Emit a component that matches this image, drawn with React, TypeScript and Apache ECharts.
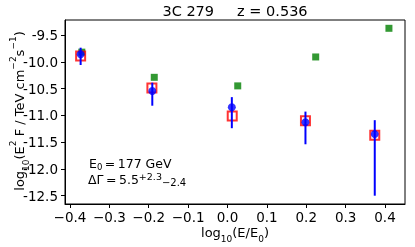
import React, { useEffect, useRef } from "react";
import * as echarts from "echarts";

const xTicks = [-0.4, -0.3, -0.2, -0.1, 0.0, 0.1, 0.2, 0.3, 0.4];
const yTicks = [-12.5, -12.0, -11.5, -11.0, -10.5, -10.0, -9.5];

const greenX = [-0.370, -0.186, 0.026, 0.224, 0.410];
const greenY = [-9.82, -10.29, -10.45, -9.91, -9.375];

const redX = [-0.373, -0.192, 0.012, 0.198, 0.374];
const redY = [-9.89, -10.49, -11.01, -11.10, -11.37];

const blueX = [-0.373, -0.191, 0.011, 0.198, 0.374];
const blueY = [-9.86, -10.545, -10.85, -11.13, -11.35];
const blueLo = [-10.06, -10.82, -11.24, -11.54, -12.5];
const blueHi = [-9.737, -10.39, -10.66, -10.93, -11.09];

const FONT = "DejaVu Sans";

export default function App() {
  const ref = useRef<HTMLDivElement>(null);
  useEffect(() => {
    const chart = echarts.init(ref.current!, null, { renderer: "svg" });
    const rich = {
      b: { fontFamily: FONT, fontSize: 13, color: "#000", lineHeight: 22, verticalAlign: "middle" },
      sup: { fontFamily: FONT, fontSize: 9, color: "#000", lineHeight: 11, verticalAlign: "top" },
      sub: { fontFamily: FONT, fontSize: 9, color: "#000", lineHeight: 11, verticalAlign: "bottom" },
    };
    const richA = {
      b: { fontFamily: FONT, fontSize: 12.5, color: "#000", lineHeight: 16, verticalAlign: "middle" },
      sup: { fontFamily: FONT, fontSize: 9.5, color: "#000", lineHeight: 7.5, verticalAlign: "top" },
      sub: { fontFamily: FONT, fontSize: 10, color: "#000", lineHeight: 4, verticalAlign: "bottom" },
      e0: { fontFamily: FONT, fontSize: 8.5, color: "#000", lineHeight: 10, verticalAlign: "bottom" },
    };
    chart.setOption({
      animation: false,
      grid: { left: 65, right: 10, top: 20, bottom: 43, show: true, borderColor: "#000", borderWidth: 1 },
      title: {
        text: "3C 279\u00a0\u00a0\u00a0\u00a0\u00a0z = 0.536",
        left: 235,
        textAlign: "center",
        top: 3,
        padding: 0,
        textStyle: { fontFamily: FONT, fontSize: 14.5, fontWeight: "normal", color: "#000" },
      },
      xAxis: {
        type: "value",
        min: -0.4127,
        max: 0.4508,
        splitLine: { show: false },
        axisLine: { show: true, onZero: false, lineStyle: { color: "#000", width: 1 } },
        axisTick: { show: true, customValues: xTicks, length: 4, lineStyle: { color: "#000" } },
        axisLabel: {
          customValues: xTicks,
          margin: 6,
          fontFamily: FONT,
          fontSize: 13.5,
          color: "#000",
          formatter: (v: number) => {
            const s = Math.abs(v).toFixed(1);
            return v < -1e-9 ? "\u2212" + s : s;
          },
        },
      },
      yAxis: {
        type: "value",
        min: -12.655,
        max: -9.22,
        splitLine: { show: false },
        axisLine: { show: true, onZero: false, lineStyle: { color: "#000", width: 1 } },
        axisTick: { show: true, customValues: yTicks, length: 4, lineStyle: { color: "#000" } },
        axisLabel: {
          customValues: yTicks,
          margin: 7,
          fontFamily: FONT,
          fontSize: 13.5,
          color: "#000",
          formatter: (v: number) => v.toFixed(1),
        },
      },
      series: [
        {
          type: "scatter",
          data: greenX.map((x, i) => [x, greenY[i]]),
          symbol: "rect",
          symbolSize: 7,
          itemStyle: { color: "#008000" },
          z: 2,
        },
        {
          type: "scatter",
          data: redX.map((x, i) => [x, redY[i]]),
          symbol: "rect",
          symbolSize: 9,
          itemStyle: { color: "rgba(0,0,0,0)", borderColor: "#ff0000", borderWidth: 2 },
          z: 3,
        },
        {
          type: "custom",
          data: blueX.map((x, i) => [x, blueLo[i], blueHi[i]]),
          renderItem: (params: any, api: any) => {
            const p1 = api.coord([api.value(0), api.value(1)]);
            const p2 = api.coord([api.value(0), api.value(2)]);
            return {
              type: "line",
              shape: { x1: p1[0], y1: p1[1], x2: p2[0], y2: p2[1] },
              style: { stroke: "#0000ff", lineWidth: 2 },
            };
          },
          encode: { x: 0, y: [1, 2] },
          z: 4,
        },
        {
          type: "scatter",
          data: blueX.map((x, i) => [x, blueY[i]]),
          symbol: "circle",
          symbolSize: 8,
          itemStyle: { color: "#0000ff" },
          z: 5,
        },
      ],
      graphic: [
        {
          type: "text",
          x: 19,
          y: 111,
          rotation: Math.PI / 2,
          style: {
            text: "{b|log}{sub|10}{b|(E}{sup|2}{b| F / TeV cm}{sup|\u22122}{b|s}{sup|\u22121}{b|)}",
            rich,
            align: "center",
            verticalAlign: "middle",
          },
        },
        {
          type: "text",
          x: 235,
          y: 232,
          style: {
            text: "{b|log}{sub|10}{b|(E/E}{sub|0}{b|)}",
            rich,
            align: "center",
            verticalAlign: "middle",
          },
        },
        {
          type: "text",
          x: 89,
          y: 163.5,
          style: {
            text: "{b|E}{e0|0}{b|\u2009=\u2009177 GeV}",
            rich: richA,
            align: "left",
            verticalAlign: "middle",
          },
        },
        {
          type: "text",
          x: 88,
          y: 179.5,
          style: {
            text: "{b|\u0394\u0393\u2009=\u20095.5}{sup|+2.3}{sub|\u22122.4}",
            rich: richA,
            align: "left",
            verticalAlign: "middle",
          },
        },
      ],
    });
    return () => chart.dispose();
  }, []);
  return <div ref={ref} style={{ position: "fixed", left: 0, top: 0, width: 415, height: 247 }} />;
}
